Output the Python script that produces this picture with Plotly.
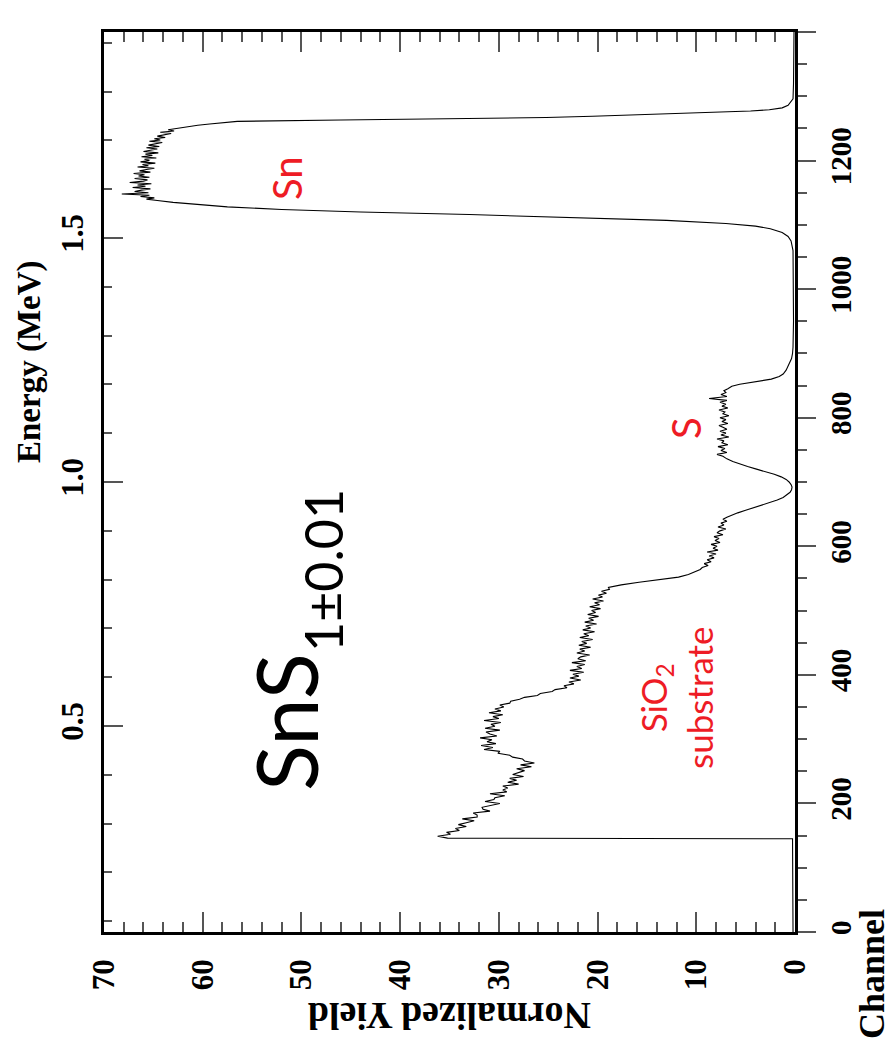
import plotly.graph_objects as go

# ---------------- data ----------------
# background below the substrate edge
bg_channel = [0, 50, 100, 140, 145]
bg_yield = [0.2, 0.2, 0.2, 0.2, 0.25]

# SiO2 substrate + Sn/S in-depth signal (noisy), every 3 channels from 149
substrate_channel = [146] + list(range(149, 537, 3))
substrate_yield = [
    35.2,
    36.2, 34.9, 35.3, 34.0, 34.4, 33.3, 34.1, 33.3, 32.5, 33.7,
    32.2, 32.2, 32.6, 30.9, 31.6, 31.7, 30.8, 29.9, 31.4, 30.5,
    30.4, 29.4, 30.9, 29.2, 29.6, 29.1, 29.6, 28.0, 29.1, 28.2,
    28.9, 27.5, 28.6, 27.9, 27.4, 28.2, 26.7, 27.8, 26.4, 27.4,
    27.6, 28.6, 28.9, 30.1, 29.9, 31.5, 30.6, 31.8, 30.3, 31.2,
    30.7, 31.9, 30.2, 30.9, 31.3, 29.9, 31.4, 30.4, 30.8, 29.8,
    31.5, 30.0, 30.6, 29.6, 31.0, 29.8, 30.4, 29.5, 29.9, 28.9,
    28.8, 27.9, 27.4, 26.1, 25.8, 24.6, 24.3, 23.1, 23.4, 22.4,
    22.9, 21.7, 22.8, 21.9, 22.5, 21.4, 22.8, 21.6, 22.1, 21.3,
    22.6, 21.2, 22.0, 21.7, 20.8, 22.1, 21.3, 21.8, 20.7, 21.9,
    21.1, 21.6, 20.5, 21.8, 20.9, 21.4, 20.3, 21.5, 20.7, 21.2,
    20.1, 21.3, 20.4, 20.9, 19.9, 21.0, 20.2, 20.6, 19.7, 20.8,
    19.8, 20.3, 19.4, 20.5, 19.5, 19.9, 19.1, 19.6, 18.8, 18.9,
]

# step down to the S plateau
step_channel = [540, 544, 548, 552, 556, 560, 564]
step_yield = [17.6, 15.8, 13.5, 11.8, 10.8, 10.1, 9.6]

# lower S plateau (noisy)
s_low_channel = list(range(567, 646, 3))
s_low_yield = [
    9.4, 8.8, 9.2, 8.5, 8.9, 8.2, 8.7, 8.0, 8.9, 7.8,
    8.3, 7.9, 8.5, 7.6, 8.1, 7.7, 8.2, 7.3, 7.9, 7.6,
    7.0, 7.8, 7.2, 7.5, 6.9, 7.3, 6.9,
]

# valley between the two S features
valley_channel = list(range(648, 737, 4))
valley_yield = [
    6.5, 5.8, 5.0, 4.2, 3.4, 2.5, 1.8, 1.2, 0.8, 0.5, 0.35, 0.3,
    0.4, 0.6, 0.9, 1.4, 2.1, 2.9, 3.9, 4.8, 5.6, 6.3, 6.9,
]

# surface S plateau (noisy)
s_high_channel = list(range(740, 848, 3))
s_high_yield = [
    7.3, 7.9, 6.9, 7.5, 7.1, 7.8, 6.8, 7.4, 7.2, 7.9,
    6.7, 7.5, 7.0, 7.6, 6.9, 7.3, 7.7, 6.8, 7.4, 7.0,
    7.6, 6.7, 7.3, 7.1, 7.7, 6.8, 7.4, 7.0, 7.6, 6.9,
    8.7, 6.9, 7.5, 7.0, 7.2, 6.8,
]

# S surface edge and empty gap up to the Sn signal
gap_channel = [849, 852, 856, 860, 864, 868, 874, 880, 886, 892, 900, 910,
               950, 1000, 1040, 1060, 1075]
gap_yield = [6.4, 5.6, 3.8, 2.4, 1.6, 1.2, 0.9, 0.7, 0.5, 0.35, 0.25, 0.2,
             0.15, 0.15, 0.15, 0.2, 0.4]

# Sn rear edge
sn_rise_channel = [1082, 1088, 1094, 1098, 1102, 1107, 1112, 1116, 1120, 1124,
                   1128, 1132, 1135]
sn_rise_yield = [0.7, 1.3, 2.5, 4.0, 7.0, 13.0, 23.0, 33.0, 44.0, 52.0,
                 57.5, 61.0, 63.0]

# Sn plateau (noisy), every 2 channels
sn_channel = list(range(1138, 1253, 2))
sn_yield = [
    64.6, 65.7, 64.9, 66.3, 65.4, 68.2, 65.5, 66.9, 66.2, 65.3,
    67.1, 65.8, 66.6, 65.2, 67.4, 66.0, 65.6, 66.9, 65.4, 66.5,
    65.9, 67.0, 65.3, 66.4, 65.7, 64.9, 66.6, 65.5, 66.1, 64.8,
    66.3, 65.4, 65.9, 64.7, 66.2, 65.1, 65.8, 64.5, 66.0, 65.2,
    64.6, 65.7, 64.4, 65.5, 64.9, 64.1, 65.4, 64.3, 64.9, 63.8,
    64.6, 63.9, 63.2, 64.3, 62.9, 63.5, 62.6, 62.2,
]

# Sn surface edge and background above
sn_fall_channel = [1255, 1257, 1259, 1261, 1263, 1265, 1267, 1269, 1271, 1273,
                   1275, 1277, 1279, 1282, 1286, 1291, 1296, 1320, 1360, 1400]
sn_fall_yield = [60.5, 59.3, 58.2, 56.5, 46.0, 35.5, 25.2, 20.5, 16.0, 12.0,
                 8.0, 4.5, 2.6, 1.3, 0.7, 0.4, 0.2, 0.15, 0.1, 0.1]

yield_ticks = [0, 10, 20, 30, 40, 50, 60, 70]
channel_ticks = [0, 200, 400, 600, 800, 1000, 1200, 1400]
energy_ticks = [0.5, 1.0, 1.5]
energy_tick_text = ["0.5", "1.0", "1.5"]
energy_range = [0.078, 1.922]   # MeV at channel 0 and channel 1400

# ---------------- assemble the spectrum ----------------
segments = [
    (bg_channel, bg_yield), (substrate_channel, substrate_yield),
    (step_channel, step_yield), (s_low_channel, s_low_yield),
    (valley_channel, valley_yield), (s_high_channel, s_high_yield),
    (gap_channel, gap_yield), (sn_rise_channel, sn_rise_yield),
    (sn_channel, sn_yield), (sn_fall_channel, sn_fall_yield),
]
channel, normalized_yield = [], []
for ch, yl in segments:
    assert len(ch) == len(yl), (len(ch), len(yl))
    channel += list(ch)
    normalized_yield += list(yl)

# ---------------- figure ----------------
AX_FONT = "Liberation Serif"
RED = "#EE1C25"

fig = go.Figure()
fig.add_trace(go.Scatter(
    x=normalized_yield, y=channel, mode="lines",
    line=dict(color="black", width=1.1), showlegend=False, hoverinfo="skip",
))
fig.add_trace(go.Scatter(x=[None], y=[None], yaxis="y2", mode="lines",
                         showlegend=False, hoverinfo="skip"))

tick_col = "#555555"
fig.update_layout(
    width=894, height=1050,
    margin=dict(l=104, r=99, t=32, b=118),
    paper_bgcolor="white", plot_bgcolor="white",
    showlegend=False,
    xaxis=dict(
        range=[70, 0], tickvals=yield_ticks, ticks="inside", ticklen=20,
        tickwidth=1.5, tickcolor=tick_col,
        minor=dict(dtick=2, ticks="inside", ticklen=10, tickwidth=1.5, tickcolor=tick_col),
        showline=True, linecolor="black", linewidth=2.5, mirror="ticks",
        showgrid=False, zeroline=False, tickangle=-90,
        tickfont=dict(family=AX_FONT, size=31, color="black", weight="bold"),
        ticklabelstandoff=12,
    ),
    yaxis=dict(
        range=[0, 1400], side="right", tickvals=channel_ticks, ticks="outside",
        ticklen=18, tickwidth=1.5, tickcolor=tick_col,
        minor=dict(dtick=50, ticks="outside", ticklen=9, tickwidth=1.5, tickcolor=tick_col),
        showline=True, linecolor="black", linewidth=2.5,
        showgrid=False, zeroline=False, tickangle=-90,
        tickfont=dict(family=AX_FONT, size=29, color="black", weight="bold"),
        ticklabelstandoff=0,
    ),
    yaxis2=dict(
        range=energy_range, overlaying="y", side="left", tickvals=energy_ticks,
        ticktext=energy_tick_text, ticks="inside", ticklen=19, tickwidth=1.5,
        tickcolor=tick_col,
        minor=dict(dtick=0.1, ticks="inside", ticklen=8, tickwidth=1.5, tickcolor=tick_col),
        showline=True, linecolor="black", linewidth=2.5,
        showgrid=False, zeroline=False, tickangle=-90,
        tickfont=dict(family=AX_FONT, size=31, color="black", weight="bold"),
        ticklabelstandoff=6,
    ),
)

def px2paper(px, py):
    return (px - 104) / 691.0, (932 - py) / 900.0

def add_text(text, px, py, size, color="black", family="Lato", angle=-90, weight="normal"):
    x, y = px2paper(px, py)
    fig.add_annotation(
        text=text, x=x, y=y, xref="paper", yref="paper", showarrow=False,
        textangle=angle, xanchor="center", yanchor="middle",
        font=dict(family=family, size=size, color=color, weight=weight),
    )

# axis titles
add_text("Energy (MeV)", 29, 362, 33, family=AX_FONT, weight="bold")
add_text("Channel", 872, 974, 36, family=AX_FONT, weight="bold")
add_text("Normalized Yield", 450, 1016, 38, family=AX_FONT, angle=180, weight="bold")

# labels inside plot
add_text("SnS", 285, 722, 85)
add_text("1±0.01", 323, 571, 52)
add_text("Sn", 287, 178, 40, color=RED)
add_text("S", 686, 428, 40, color=RED)
add_text("SiO<sub>2</sub><br>substrate", 676, 698, 35, color=RED)

fig.write_html("out.html")
